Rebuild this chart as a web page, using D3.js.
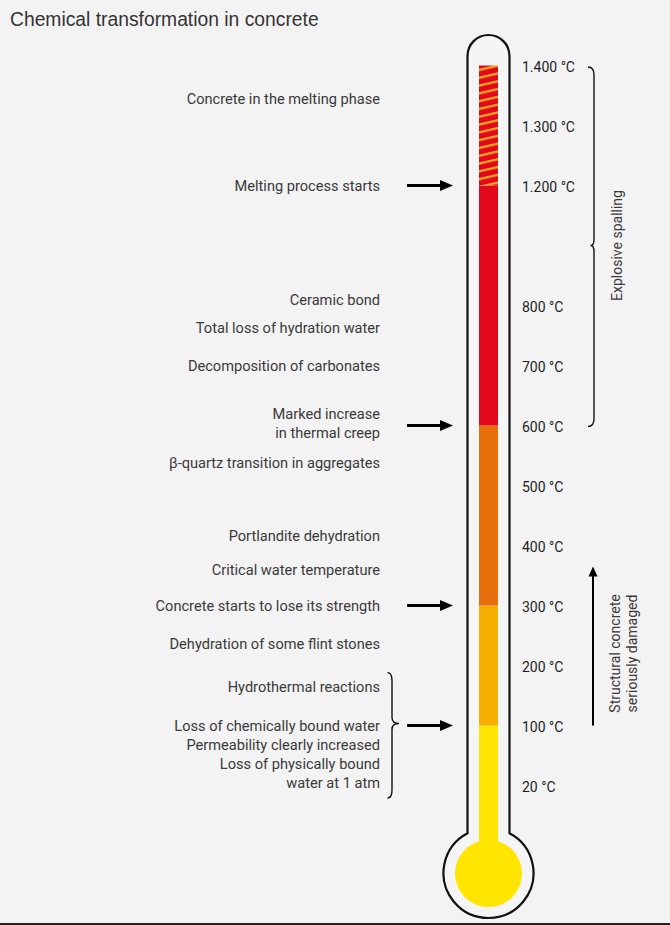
<!DOCTYPE html>
<html><head><meta charset="utf-8">
<script src="https://cdn.jsdelivr.net/npm/d3@7"></script>
<style>html,body{margin:0;padding:0;background:#f3f3f3;} svg{display:block}</style>
</head><body>
<svg id="chart" width="670" height="925"></svg>
<script>
// ---------- data ----------
const title = "Chemical transformation in concrete";
const tickTemps = [1400, 1300, 1200, 800, 700, 600, 500, 400, 300, 200, 100, 20];
const tickLabels = ["1.400 °C", "1.300 °C", "1.200 °C", "800 °C", "700 °C", "600 °C", "500 °C", "400 °C", "300 °C", "200 °C", "100 °C", "20 °C"];
// breakpoints of the non-linear temperature axis and their slot index
const axisTemps = [20, 100, 800, 1200, 1400];
const axisSlots = [12, 11, 4, 2, 0];

const segFrom = [20, 100, 300, 600, 1200];
const segTo = [100, 300, 600, 1200, 1400];
const segColors = ["#ffe500", "#f7ae00", "#e8700c", "#e2071b", "hatch"];

const eventTexts = [
  ["Concrete in the melting phase"],
  ["Melting process starts"],
  ["Ceramic bond"],
  ["Total loss of hydration water"],
  ["Decomposition of carbonates"],
  ["Marked increase", "in thermal creep"],
  ["β-quartz transition in aggregates"],
  ["Portlandite dehydration"],
  ["Critical water temperature"],
  ["Concrete starts to lose its strength"],
  ["Dehydration of some flint stones"],
  ["Hydrothermal reactions"],
  ["Loss of chemically bound water", "Permeability clearly increased", "Loss of physically bound", "water at 1 atm"]
];
const eventTemps = [1345, 1200, 820, 762, 700, 620, 538, 416, 359, 300, 236, 164, 100];

const arrowTemps = [1200, 600, 300, 100];

const spallingRange = [1400, 600];
const spallingTip = 1000;
const spallingLabel = "Explosive spalling";

const damageRange = [100, 365];
const damageLabelTemp = 220;
const damageLabel = ["Structural concrete", "seriously damaged"];

const groupBraceEvents = [11, 12];
const groupBraceTip = 100;

// ---------- layout ----------
const W = 670, H = 925;
const slotTop = 65.5, slotStep = 60;
const y = d3.scaleLinear().domain(axisTemps).range(axisSlots.map(s => slotTop + s * slotStep));
const cx = 488.5;           // thermometer axis
const tubeHalf = 21;        // outline half width
const fillHalf = 9.5;       // liquid half width
const bulbCy = 873, bulbR = 45, bulbFillR = 33.5;
const lineH = 19;
const labelRight = 380, tickX = 522;
const sans = "Roboto, 'DejaVu Sans', sans-serif";

const svg = d3.select("#chart");
svg.append("rect").attr("width", W).attr("height", H).attr("fill", "#f3f3f3");
svg.append("rect").attr("x", 0).attr("y", H - 2).attr("width", W).attr("height", 2).attr("fill", "#222");

svg.append("text").attr("x", 10).attr("y", 26).text(title)
  .attr("font-family", "'Liberation Sans', Arial, Helvetica, sans-serif")
  .attr("font-size", 19.3).attr("fill", "#333");

// hatch pattern
const defs = svg.append("defs");
const pat = defs.append("pattern").attr("id", "hatch").attr("patternUnits", "userSpaceOnUse")
  .attr("width", 40).attr("height", 7.6).attr("patternTransform", "rotate(-13)");
pat.append("rect").attr("width", 40).attr("height", 7.6).attr("fill", "#e2071b");
pat.append("rect").attr("y", 0).attr("width", 40).attr("height", 2.3).attr("fill", "#f7a823");

// thermometer outline
const joinDy = Math.sqrt(bulbR * bulbR - tubeHalf * tubeHalf);
const topCapY = slotTop - 9.5;
const outline = d3.path();
outline.moveTo(cx - tubeHalf, bulbCy - joinDy);
outline.lineTo(cx - tubeHalf, topCapY);
outline.arc(cx, topCapY, tubeHalf, Math.PI, 0);
outline.lineTo(cx + tubeHalf, bulbCy - joinDy);
outline.arc(cx, bulbCy, bulbR, -Math.asin(joinDy / bulbR), Math.PI + Math.asin(joinDy / bulbR), false);
outline.closePath();
svg.append("path").attr("d", outline.toString()).attr("fill", "#f5f5f6")
  .attr("stroke", "#111").attr("stroke-width", 2.2);

// liquid segments
const segs = segFrom.map((f, i) => ({ from: f, to: segTo[i], color: segColors[i] }));
svg.append("g").selectAll("rect").data(segs).join("rect")
  .attr("x", cx - fillHalf).attr("width", fillHalf * 2)
  .attr("y", d => y(d.to))
  .attr("height", (d, i) => (i === 0 ? bulbCy : y(d.from)) - y(d.to))
  .attr("fill", d => d.color === "hatch" ? "url(#hatch)" : d.color);
svg.append("circle").attr("cx", cx).attr("cy", bulbCy + 0.5).attr("r", bulbFillR).attr("fill", segColors[0]);

// tick labels
svg.append("g").selectAll("text").data(tickTemps).join("text")
  .attr("x", tickX).attr("y", d => y(d) + 1.5)
  .attr("dominant-baseline", "central")
  .attr("font-family", sans).attr("font-size", 14)
  .attr("fill", "#1e1e1e")
  .text((d, i) => tickLabels[i]);

// event labels
const ev = svg.append("g").attr("font-family", sans)
  .attr("font-size", 14.6).attr("fill", "#3a3a3a").attr("text-anchor", "end");
eventTexts.forEach((lines, i) => {
  lines.forEach((ln, j) => {
    ev.append("text").attr("x", labelRight).attr("y", y(eventTemps[i]) + j * lineH)
      .attr("dominant-baseline", "central").text(ln);
  });
});

// horizontal arrows
const ag = svg.append("g");
arrowTemps.forEach(t => {
  const yy = y(t);
  ag.append("line").attr("x1", 407).attr("x2", 442).attr("y1", yy).attr("y2", yy)
    .attr("stroke", "#000").attr("stroke-width", 3);
  ag.append("path").attr("d", `M440,${yy - 5.5} L453,${yy} L440,${yy + 5.5} Z`).attr("fill", "#000");
});

// brace helper
function brace(x, y0, y1, ym, endDx, tipDx) {
  const p = d3.path();
  p.moveTo(x + endDx, y0);
  p.quadraticCurveTo(x, y0, x, y0 + 8);
  p.lineTo(x, ym - 6);
  p.quadraticCurveTo(x, ym, x + tipDx, ym);
  p.quadraticCurveTo(x, ym, x, ym + 6);
  p.lineTo(x, y1 - 8);
  p.quadraticCurveTo(x, y1, x + endDx, y1);
  return p.toString();
}

// Explosive spalling brace
svg.append("path")
  .attr("d", brace(594, y(spallingRange[0]) + 1.5, y(spallingRange[1]) + 1, y(spallingTip), -6, -3.5))
  .attr("fill", "none").attr("stroke", "#111").attr("stroke-width", 1.4);
svg.append("text").attr("transform", `translate(617,${y(spallingTip)}) rotate(-90)`)
  .attr("text-anchor", "middle").attr("dominant-baseline", "central")
  .attr("font-family", sans).attr("font-size", 14)
  .attr("fill", "#3a3a3a").text(spallingLabel);

// group brace at left
const gTop = y(eventTemps[groupBraceEvents[0]]) - 14.5;
const lastLines = eventTexts[groupBraceEvents[1]].length;
const gBot = y(eventTemps[groupBraceEvents[1]]) + (lastLines - 1) * lineH + 15.5;
svg.append("path")
  .attr("d", brace(392, gTop, gBot, y(groupBraceTip) - 2, -4.5, 7))
  .attr("fill", "none").attr("stroke", "#111").attr("stroke-width", 1.4);

// damage arrow
svg.append("line").attr("x1", 593).attr("x2", 593)
  .attr("y1", y(damageRange[0])).attr("y2", y(damageRange[1]) + 8)
  .attr("stroke", "#000").attr("stroke-width", 2);
svg.append("path")
  .attr("d", `M588.5,${y(damageRange[1]) + 10} L593,${y(damageRange[1])} L597.5,${y(damageRange[1]) + 10} Z`)
  .attr("fill", "#000");
damageLabel.forEach((ln, j) => {
  svg.append("text").attr("transform", `translate(${615 + j * 17},${y(damageLabelTemp)}) rotate(-90)`)
    .attr("text-anchor", "middle").attr("dominant-baseline", "central")
    .attr("font-family", sans).attr("font-size", 14)
    .attr("fill", "#3a3a3a").text(ln);
});
</script>
</body></html>
